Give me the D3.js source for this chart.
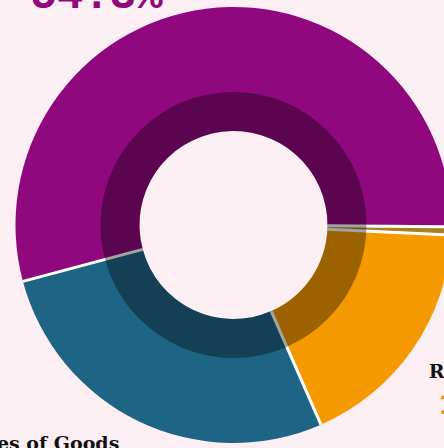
<!DOCTYPE html>
<html>
<head>
<meta charset="utf-8">
<script src="https://cdn.jsdelivr.net/npm/d3@7"></script>
<style>
  html, body { margin: 0; padding: 0; background: #fbeff4; overflow: hidden; }
</style>
</head>
<body>
<div id="chart"></div>
<script>
// revenue split
const categories = ["Services", "Other", "Rent Income", "Sales of Goods"];
const shares = [54.3, 0.6, 17.7, 27.4];
const palette = ["#8f087e", "#a6831f", "#f49a00", "#1e6585"];

const width = 444, height = 448;
const cx = 233.5, cy = 225;
const outerR = 218, innerR = 94, shadeR = 133;

let svg = d3.select('#chart')
  .append('svg')
  .attr('width', width)
  .attr('height', height)
  .style('background-color', '#fbeff4')

let g = svg.append('g')
  .attr('transform', 'translate(' + cx + ',' + cy + ')')

let color = d3.scaleOrdinal()
  .domain(categories)
  .range(palette)

// pie is rotated so the big slice wraps over the top
let pie = d3.pie()
  .sort(null)
  .startAngle(-105 * Math.PI / 180)
  .endAngle(255 * Math.PI / 180)

let arcs = pie(shares)

let arc = d3.arc()
  .innerRadius(innerR)
  .outerRadius(outerR)

g.selectAll('path.slice')
  .data(arcs)
  .enter()
  .append('path')
    .attr('class', 'slice')
    .attr('d', arc)
    .attr('fill', (d, i) => color(categories[i]))

// white gaps only between slices, not round the edges
g.selectAll('line.gap')
  .data(arcs)
  .enter()
  .append('line')
    .attr('class', 'gap')
    .attr('x1', d => innerR * Math.sin(d.startAngle))
    .attr('y1', d => -innerR * Math.cos(d.startAngle))
    .attr('x2', d => outerR * Math.sin(d.startAngle))
    .attr('y2', d => -outerR * Math.cos(d.startAngle))
    .attr('stroke', '#fff')
    .attr('stroke-width', 3)

// darker inner band laid over the slices
g.append('path')
  .attr('d', d3.arc().innerRadius(innerR).outerRadius(shadeR)
    .startAngle(0).endAngle(2 * Math.PI)())
  .attr('fill', '#000')
  .attr('fill-opacity', 0.36)

// labels (the tiny slice's label sits outside the frame, so it's left out)
let labelArc = d3.arc().innerRadius(300).outerRadius(300)
let pctSize = d3.scaleLinear()
  .domain([0, d3.max(shares)])
  .range([28, 44])

// hand nudges so labels sit where the original put them
let nudge = [[-99, 63], [0, 0], [8, 1], [-62, -27]]
let nameDx = [0, 0, 8, 0]

let labels = g.selectAll('g.label')
  .data(arcs.filter(d => d.data >= 1))
  .enter()
  .append('g')
    .attr('class', 'label')
    .attr('transform', d => {
      let c = labelArc.centroid(d)
      let n = nudge[d.index]
      return 'translate(' + (c[0] + n[0]) + ',' + (c[1] + n[1]) + ')'
    })

labels.append('text')
  .attr('text-anchor', 'middle')
  .attr('x', d => nameDx[d.index])
  .attr('y', -18)
  .style('font-family', '"DejaVu Serif", serif')
  .style('font-weight', 'bold')
  .style('font-size', '19px')
  .attr('fill', '#111')
  .text(d => categories[d.index])

labels.append('text')
  .attr('text-anchor', 'middle')
  .attr('y', 18)
  .style('font-family', '"Liberation Mono", monospace')
  .style('font-weight', 'bold')
  .style('font-size', d => pctSize(d.data) + 'px')
  .attr('fill', d => color(categories[d.index]))
  .text(d => d.data.toFixed(1) + '%')
</script>
</body>
</html>
